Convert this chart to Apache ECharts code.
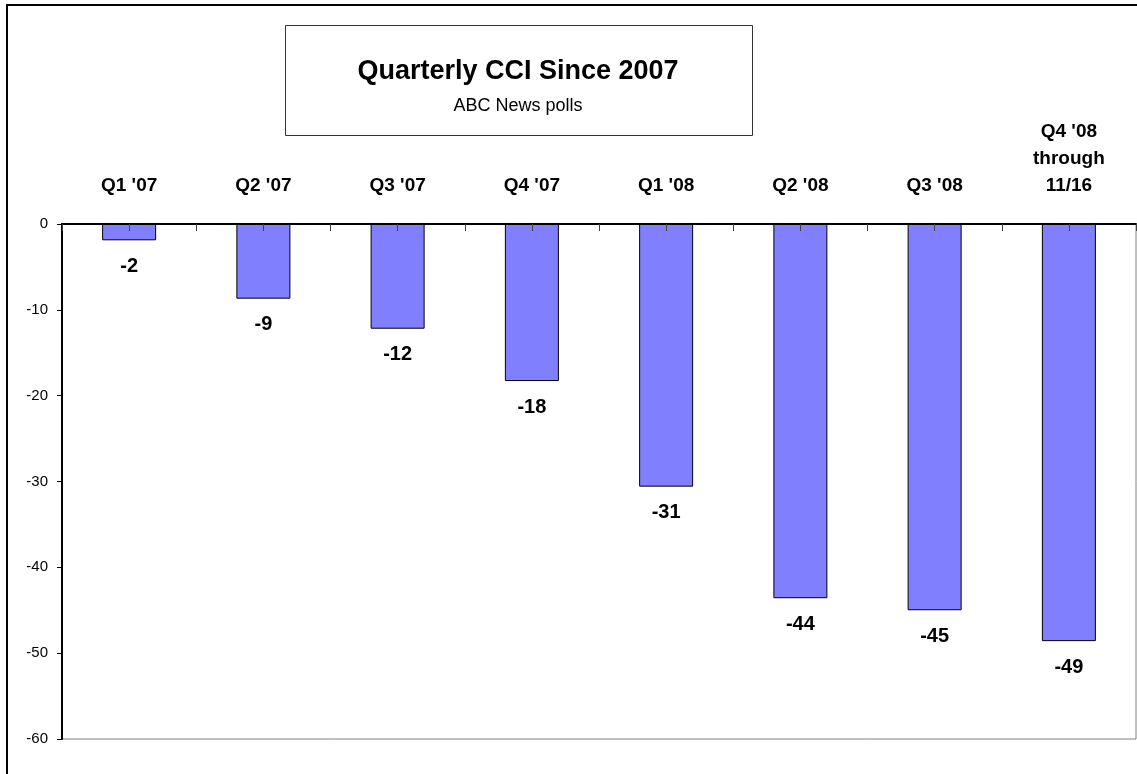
<!DOCTYPE html>
<html>
<head>
<meta charset="utf-8">
<script src="https://cdn.jsdelivr.net/npm/echarts@6/dist/echarts.min.js"></script>
<style>
html,body{margin:0;padding:0;background:#fff;}
#chart{width:1137px;height:774px;}
</style>
</head>
<body>
<div id="chart"></div>
<script>
var categories = ["Q1 '07", "Q2 '07", "Q3 '07", "Q4 '07", "Q1 '08", "Q2 '08", "Q3 '08", "Q4 '08\nthrough\n11/16"];
var values = [-1.9, -8.7, -12.2, -18.3, -30.6, -43.6, -45.0, -48.6];
var yTicks = { min: -60, max: 0, interval: 10 };
var titleText = "Quarterly CCI Since 2007";
var subtitleText = "ABC News polls";

var chart = echarts.init(document.getElementById('chart'), null, { renderer: 'canvas' });
var FONT = 'Liberation Sans, Arial, sans-serif';
chart.setOption({
  backgroundColor: '#ffffff',
  animation: false,
  title: {
    text: titleText,
    subtext: subtitleText,
    left: 513,
    textAlign: 'center',
    top: 53,
    itemGap: 12,
    textStyle: { fontFamily: FONT, fontSize: 27, fontWeight: 'bold', color: '#000' },
    subtextStyle: { fontFamily: FONT, fontSize: 18, color: '#000' }
  },
  graphic: [
    { type: 'rect', shape: { x: 7, y: 5, width: 1140, height: 800 }, style: { fill: 'none', stroke: '#000', lineWidth: 2 }, z: -1 },
    { type: 'rect', shape: { x: 285.5, y: 25.5, width: 467, height: 110 }, style: { fill: '#fff', stroke: '#333', lineWidth: 1 }, z: -1 }
  ],
  grid: {
    left: 62, right: 1, top: 224, bottom: 35,
    show: true, borderColor: '#808080', borderWidth: 1, backgroundColor: 'transparent'
  },
  xAxis: [
    {
      type: 'category',
      data: categories,
      position: 'top',
      z: 10,
      axisLine: { show: true, lineStyle: { color: '#000', width: 2 } },
      axisTick: { show: true, inside: true, length: 7, lineStyle: { color: '#404040' } },
      axisLabel: {
        show: true, margin: 25, interval: 0,
        fontFamily: FONT, fontSize: 19, fontWeight: 'bold', color: '#000', lineHeight: 27
      },
      splitLine: { show: false }
    },
    {
      type: 'category',
      data: categories,
      position: 'top',
      z: 10,
      axisLine: { show: false },
      axisTick: { show: true, inside: true, alignWithLabel: true, length: 7, lineStyle: { color: '#404040' } },
      axisLabel: { show: false },
      splitLine: { show: false }
    }
  ],
  yAxis: {
    type: 'value',
    min: yTicks.min, max: yTicks.max, interval: yTicks.interval,
    axisLine: { show: true, lineStyle: { color: '#000', width: 2 } },
    axisTick: { show: true, length: 5, lineStyle: { color: '#000' } },
    axisLabel: { margin: 14, fontFamily: FONT, fontSize: 15, color: '#000' },
    splitLine: { show: false }
  },
  series: [{
    type: 'bar',
    xAxisIndex: 0,
    data: values,
    barWidth: 54,
    itemStyle: { color: '#8080FF', borderColor: '#000', borderWidth: 1 },
    label: {
      show: true,
      position: 'bottom',
      distance: 16,
      formatter: function (p) { return String(Math.round(p.value)); },
      fontFamily: FONT, fontSize: 20, fontWeight: 'bold', color: '#000'
    }
  }]
});
</script>
</body>
</html>
